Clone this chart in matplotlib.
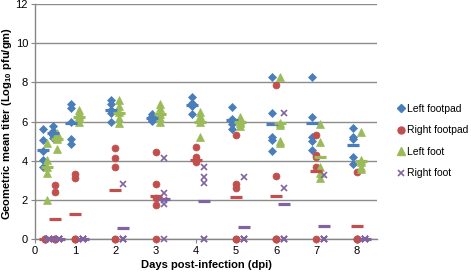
import matplotlib
matplotlib.use("Agg")
import matplotlib.pyplot as plt
from matplotlib.lines import Line2D

plt.rcParams['font.family'] = ['Liberation Sans', 'DejaVu Sans']
plt.rcParams['mathtext.fontset'] = 'custom'
plt.rcParams['mathtext.rm'] = 'Liberation Sans'
plt.rcParams['mathtext.bf'] = 'Liberation Sans:bold'
plt.rcParams['mathtext.default'] = 'regular'

# ---- data ----
days = [0.25, 0.5, 1, 2, 3, 4, 5, 6, 7, 8]
xticks = [0, 1, 2, 3, 4, 5, 6, 7, 8]
yticks = [0, 2, 4, 6, 8, 10, 12]

series_names = ["Left footpad", "Right footpad", "Left foot", "Right foot"]

left_footpad = [
    [5.6, 5.05, 4.5, 4.03, 3.7],
    [5.75, 5.5, 5.3, 5.3, 5.15],
    [6.9, 6.7, 5.95, 5.1, 4.85],
    [7.1, 6.9, 6.6, 6.45, 5.95],
    [6.4, 6.3, 6.2, 6.1, 6.05],
    [7.25, 6.95, 6.85, 6.8, 6.4],
    [6.75, 6.15, 6.05, 5.85, 5.6],
    [8.28, 6.45, 5.2, 5.05, 4.5],
    [8.28, 6.24, 5.2, 5.0, 4.55],
    [5.65, 5.2, 5.1, 4.2, 3.85],
]
left_footpad_mean = [4.57, 5.42, 5.93, 6.58, 6.2, 6.84, 6.07, 5.87, 5.9, 4.8]

right_footpad = [
    [0, 0, 0, 0, 0],
    [2.76, 2.41, 0, 0, 0],
    [3.3, 3.1, 0, 0, 0],
    [4.63, 4.12, 3.69, 0, 0],
    [4.45, 2.8, 2.1, 1.75, 0],
    [4.7, 4.2, 4.05, 3.95],
    [5.3, 2.8, 2.6, 0, 0],
    [7.86, 3.23, 0, 0, 0],
    [5.3, 4.3, 4.2, 3.7, 0],
    [3.44, 0, 0, 0, 0],
]
right_footpad_mean = [0, 1.02, 1.28, 2.49, 2.22, 4.03, 2.14, 2.21, 3.48, 0.68]

left_foot = [
    [4.9, 4.05, 3.7, 3.35, 2.0],
    [5.4, 5.3, 5.2, 5.1, 4.6],
    [6.6, 6.45, 6.3, 6.2, 5.95],
    [7.1, 6.8, 6.5, 6.2, 5.9],
    [6.9, 6.7, 6.4, 6.2, 6.0],
    [6.5, 6.3, 6.15, 6.0, 5.2],
    [6.25, 6.1, 6.0, 5.9, 5.75],
    [8.28, 5.9, 5.8, 5.0, 4.9],
    [5.85, 4.95, 3.7, 3.35, 3.1],
    [5.45, 4.05, 3.95, 3.7, 3.6],
]
left_foot_mean = [3.66, 5.12, 6.25, 6.45, 6.4, 6.0, 6.0, 5.9, 4.2, 4.0]

right_foot = [
    [0, 0, 0, 0, 0],
    [0, 0, 0, 0, 0],
    [0, 0, 0, 0, 0],
    [2.81, 0, 0, 0, 0],
    [4.12, 2.33, 2.0, 1.79, 0],
    [3.66, 3.18, 2.84, 0, 0],
    [3.18, 0, 0, 0, 0],
    [6.45, 2.62, 0, 0, 0],
    [3.27, 0, 0, 0, 0],
    [0, 0, 0, 0, 0],
]
right_foot_mean = [0, 0, 0, 0.58, 2.05, 1.94, 0.63, 1.8, 0.67, 0]

# ---- styles ----
styles = [
    dict(color="#4A7EBB", marker="D", ms=4.4, offset=-0.1),
    dict(color="#C0504D", marker="o", ms=5.0, offset=0.0),
    dict(color="#9BBB59", marker="^", ms=5.4, offset=0.1),
    dict(color="#8064A2", marker="x", ms=4.4, offset=0.2),
]
all_values = [left_footpad, right_footpad, left_foot, right_foot]
all_means = [left_footpad_mean, right_footpad_mean, left_foot_mean, right_foot_mean]

fig = plt.figure(figsize=(4.71, 2.74), dpi=100)
ax = fig.add_axes([35 / 471, 1 - 239 / 274, (377.5 - 35) / 471, (239 - 4) / 274])

def xpos(d, off):
    return d + (off * 0.5 if d < 1 else off)

for vals, st in zip(all_values, styles):
    xs, ys = [], []
    for d, group in zip(days, vals):
        for v in group:
            xs.append(xpos(d, st["offset"]))
            ys.append(v)
    kw = dict(linestyle="none", marker=st["marker"], markersize=st["ms"], clip_on=False, zorder=3)
    if st["marker"] == "x":
        kw.update(color=st["color"], markeredgewidth=1.2)
    else:
        kw.update(color=st["color"], markeredgecolor=st["color"], markeredgewidth=0.5)
    ax.plot(xs, ys, **kw)

for means, st in zip(all_means, styles):
    xs = [xpos(d, st["offset"]) for d in days]
    ax.plot(xs, means, linestyle="none", marker="_", markersize=8.5,
            markeredgewidth=2.3, color=st["color"], clip_on=False, zorder=4)

ax.set_xlim(0, 8.52)
ax.set_ylim(0, 12)
ax.set_xticks(xticks)
ax.set_yticks(yticks)
ax.tick_params(axis="both", labelsize=8, color="#868686", length=3, width=0.8, pad=2)
ax.yaxis.grid(True, color="#8C8C8C", linewidth=1.0)
ax.set_axisbelow(True)
for s in ["top", "right"]:
    ax.spines[s].set_visible(False)
for s in ["left", "bottom"]:
    ax.spines[s].set_color("#868686")
    ax.spines[s].set_linewidth(1.0)

ax.set_xlabel("Days post-infection (dpi)", fontsize=8, fontweight="bold", labelpad=3)
ax.set_ylabel("Geometric mean titer (Log$_{10}$ pfu/gm)", fontsize=8, fontweight="bold", labelpad=3)
ax.yaxis.set_label_coords(-21 / (377.5 - 35), 0.49)

handles = []
for name, st in zip(series_names, styles):
    if st["marker"] == "x":
        h = Line2D([], [], linestyle="none", marker="x", color=st["color"], markersize=4.2, markeredgewidth=1.2)
    else:
        h = Line2D([], [], linestyle="none", marker=st["marker"], color=st["color"], markersize=st["ms"])
    handles.append(h)
fig.legend(handles, series_names, loc="upper left", bbox_to_anchor=(398 / 471, 1 - 104 / 274),
           frameon=False, fontsize=7.5, handlelength=0.6, handletextpad=0.25, labelspacing=1.1,
           borderaxespad=0, borderpad=0)

fig.savefig("out.png", dpi=100)
